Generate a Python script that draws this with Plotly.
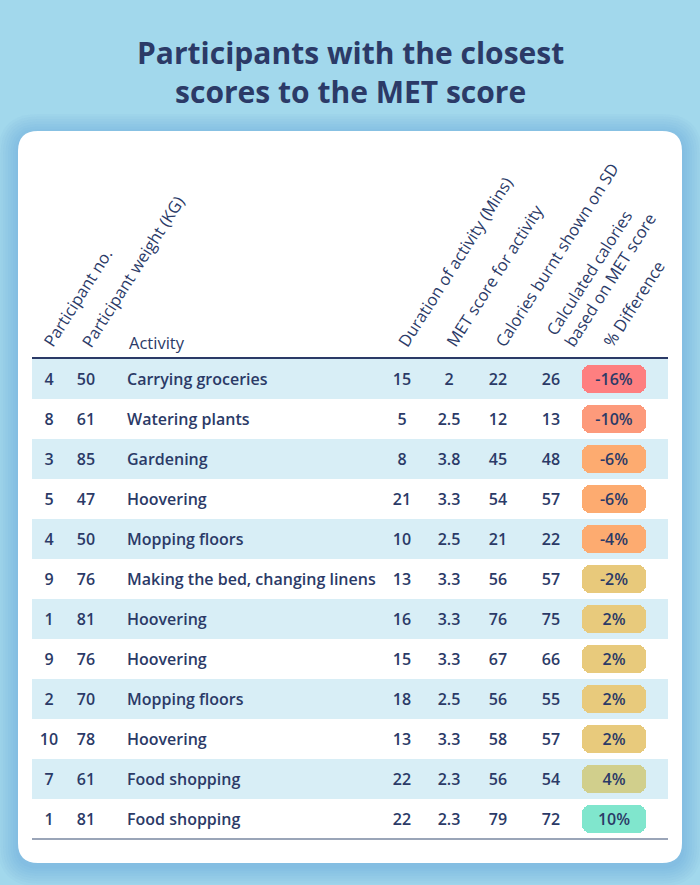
import plotly.graph_objects as go

# ---------------- data ----------------
participant_no = [4, 8, 3, 5, 4, 9, 1, 9, 2, 10, 7, 1]
weight_kg = [50, 61, 85, 47, 50, 76, 81, 76, 70, 78, 61, 81]
activity = ["Carrying groceries", "Watering plants", "Gardening", "Hoovering",
            "Mopping floors", "Making the bed, changing linens", "Hoovering",
            "Hoovering", "Mopping floors", "Hoovering", "Food shopping", "Food shopping"]
duration_mins = [15, 5, 8, 21, 10, 13, 16, 15, 18, 13, 22, 22]
met_score = [2, 2.5, 3.8, 3.3, 2.5, 3.3, 3.3, 3.3, 2.5, 3.3, 2.3, 2.3]
calories_sd = [22, 12, 45, 54, 21, 56, 76, 67, 56, 58, 56, 79]
calories_met = [26, 13, 48, 57, 22, 57, 75, 66, 55, 57, 54, 72]
pct_difference = [-16, -10, -6, -6, -4, -2, 2, 2, 2, 2, 4, 10]

title_text = "Participants with the closest<br>scores to the MET score"
rotated_headers = ["Participant no.", "Participant weight (KG)",
                   "Duration of activity (Mins)", "MET score for activity",
                   "Calories burnt shown on SD",
                   "Calculated calories<br>based on MET score", "% Difference"]
activity_header = "Activity"

# ---------------- style ----------------
W, H = 700, 885
BG = "#a2d8ec"
NAVY = "#2b3a67"
STRIPE = "#d8eef6"
FONT = "Open Sans"
pill_palette = {-16: "#fe7f80", -10: "#fd9a7b", -6: "#fdab70", -4: "#fdab70",
                -2: "#e8c97b", 2: "#e8ca7c", 4: "#d1cf8c", 10: "#80e6cd"}

# column layout (pixel x)
col_no_x, col_w_x, col_act_x = 49, 86, 127
col_dur_x, col_met_x, col_sd_x, col_calc_x = 402, 449, 498, 551
pill_x0, pill_w = 582, 64
table_x0, table_x1 = 32, 668
body_top, body_bot = 359, 839
text_nudge = 0.06  # rows; small downward optical offset for cell text


def py(v):
    return 1 - v / H


def px(v):
    return v / W


n = len(participant_no)
rows = list(range(n))

fig = go.Figure()

# stripes (bars on the row axis)
stripe_rows = [r for r in rows if r % 2 == 0]
fig.add_trace(go.Bar(orientation="h", y=stripe_rows, x=[table_x1 - table_x0] * len(stripe_rows),
                     base=table_x0, width=1.0, marker=dict(color=STRIPE, line_width=0),
                     hoverinfo="skip", showlegend=False))
# pills
fig.add_trace(go.Bar(orientation="h", y=rows, x=[pill_w] * n, base=pill_x0, width=0.7,
                     marker=dict(color=[pill_palette[v] for v in pct_difference],
                                 line_width=0, cornerradius=8),
                     hoverinfo="skip", showlegend=False))

tf = dict(family=FONT, size=16, color=NAVY, weight=600)


def text_col(x, vals, pos="middle center"):
    fig.add_trace(go.Scatter(x=[x] * n, y=rows, mode="text", yaxis="y2",
                             text=[str(v) for v in vals], textposition=pos,
                             textfont=tf, hoverinfo="skip", showlegend=False,
                             cliponaxis=False))


text_col(col_no_x, participant_no)
text_col(col_w_x, weight_kg)
text_col(col_act_x, activity, "middle right")
text_col(col_dur_x, duration_mins)
text_col(col_met_x, met_score)
text_col(col_sd_x, calories_sd)
text_col(col_calc_x, calories_met)
text_col(pill_x0 + pill_w / 2, [f"{v}%" for v in pct_difference])

# ---------------- decorations (paper coords) ----------------
shapes = []


def rounded(x0, y0, x1, y1, r):
    rx, ry = r / W, r / H
    X0, X1 = px(x0), px(x1)
    Y0, Y1 = py(y0), py(y1)  # Y0 top (larger), Y1 bottom
    return (f"M {X0+rx},{Y0} L {X1-rx},{Y0} Q {X1},{Y0} {X1},{Y0-ry} "
            f"L {X1},{Y1+ry} Q {X1},{Y1} {X1-rx},{Y1} L {X0+rx},{Y1} "
            f"Q {X0},{Y1} {X0},{Y1+ry} L {X0},{Y0-ry} Q {X0},{Y0} {X0+rx},{Y0} Z")


card = (18, 131, 682, 863)
for k in range(8, 0, -1):
    e = 2.5 * k
    shapes.append(dict(type="path", xref="paper", yref="paper", layer="below",
                       path=rounded(card[0] - e, card[1] - e + 3, card[2] + e, card[3] + e + 3, 20 + e),
                       fillcolor="rgba(70,150,210,0.045)", line=dict(width=0)))
shapes.append(dict(type="path", xref="paper", yref="paper", layer="below",
                   path=rounded(*card, 20), fillcolor="white", line=dict(width=0)))
# header rule and bottom rule
shapes.append(dict(type="line", xref="paper", yref="paper", x0=px(table_x0), x1=px(table_x1),
                   y0=py(body_top - 1), y1=py(body_top - 1), line=dict(color=NAVY, width=2), layer="above"))
shapes.append(dict(type="line", xref="paper", yref="paper", x0=px(table_x0), x1=px(table_x1),
                   y0=py(body_bot), y1=py(body_bot), line=dict(color="#9aa5b8", width=2), layer="above"))

annotations = [
    dict(text=title_text, xref="paper", yref="paper", x=0.5, y=py(71.5), showarrow=False,
         xanchor="center", yanchor="middle",
         font=dict(family=FONT, size=30, color=NAVY, weight=700)),
    dict(text=activity_header, xref="x", yref="paper", x=col_act_x, y=py(342), showarrow=False,
         xanchor="left", yanchor="middle", font=dict(family=FONT, size=16.5, color=NAVY, weight=500)),
]
hdr_x = [35, 73, 390, 438, 487, 538, 595]
for t, x in zip(rotated_headers, hdr_x):
    annotations.append(dict(text=t, xref="x", yref="paper", x=x, y=py(354), showarrow=False,
                            textangle=-57.5, xanchor="left", yanchor="bottom", align="left",
                            font=dict(family=FONT, size=16.5, color=NAVY, weight=500)))

fig.update_layout(
    width=W, height=H, margin=dict(l=0, r=0, t=0, b=0),
    paper_bgcolor=BG, plot_bgcolor="rgba(0,0,0,0)",
    barmode="overlay", bargap=0,
    xaxis=dict(range=[0, W], domain=[0, 1], visible=False, fixedrange=True),
    yaxis=dict(range=[n - 0.5, -0.5], domain=[py(body_bot), py(body_top)], visible=False,
               fixedrange=True),
    yaxis2=dict(range=[n - 0.5 - text_nudge, -0.5 - text_nudge], overlaying="y",
                visible=False, fixedrange=True),
    shapes=shapes, annotations=annotations, showlegend=False,
)

fig.write_html("out.html", config={"displayModeBar": False},
               post_script="document.body.style.margin='0';")
